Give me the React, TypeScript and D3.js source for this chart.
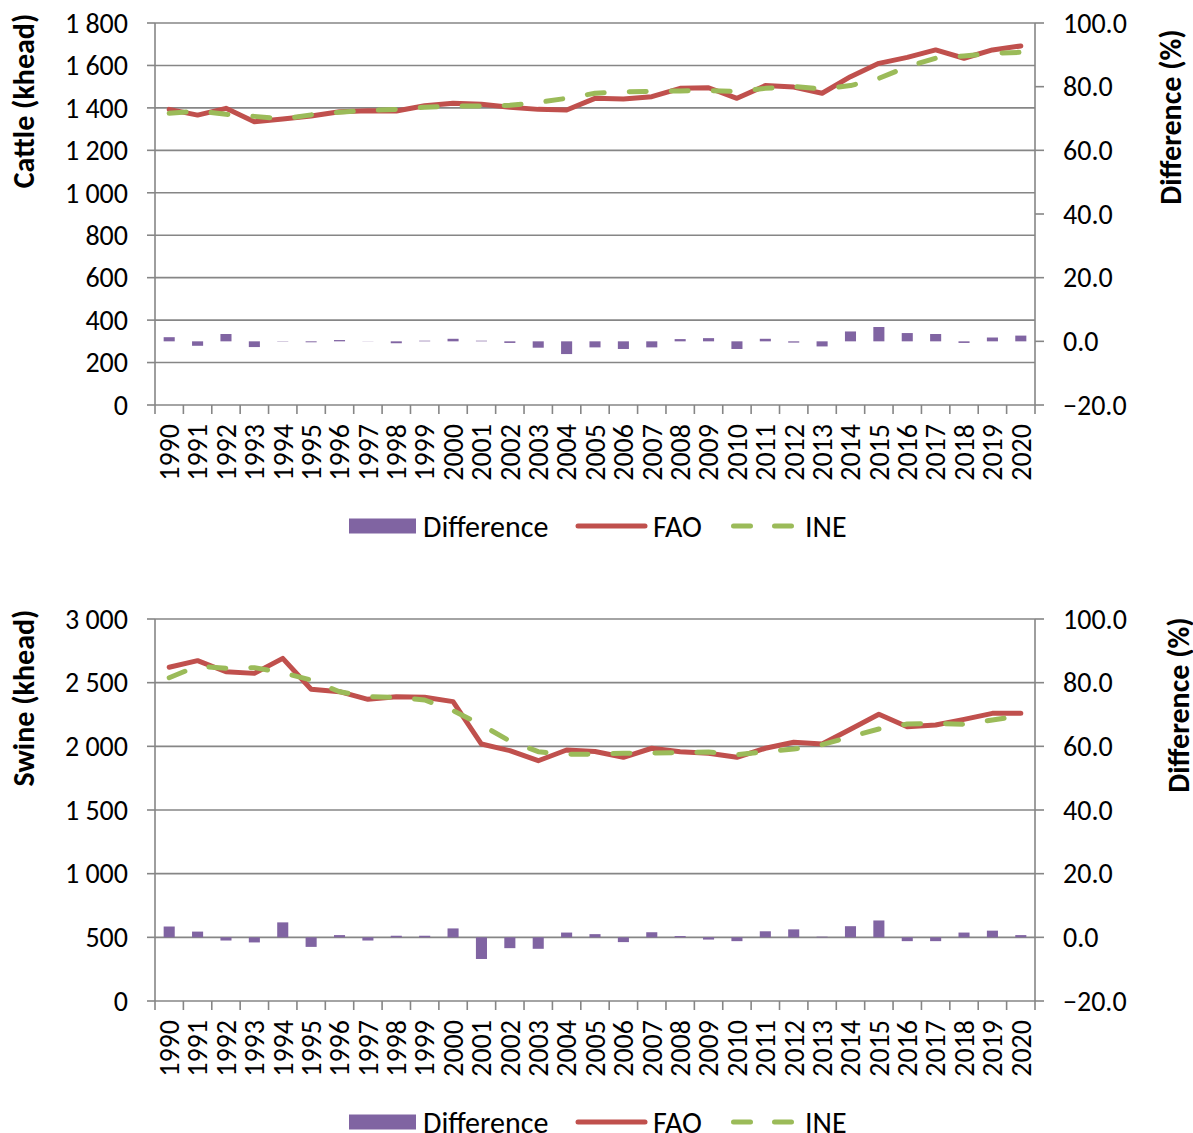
import React from "react";
import * as d3 from "d3";

const years = d3.range(1990, 2021).map(String);

const cattleFAO = [1393, 1366, 1398, 1335, 1348, 1362, 1382, 1387, 1385, 1410, 1422, 1417, 1403, 1393, 1390, 1445, 1442, 1453, 1492, 1495, 1445, 1505, 1498, 1469, 1547, 1610, 1638, 1673, 1634, 1673, 1692];
const cattleINE = [1375, 1385, 1370, 1360, 1348, 1367, 1380, 1388, 1393, 1403, 1409, 1409, 1412, 1426, 1445, 1469, 1476, 1478, 1480, 1481, 1478, 1492, 1501, 1489, 1505, 1539, 1594, 1634, 1645, 1657, 1662];
const cattleDiff = [1.3, -1.4, 2.3, -1.8, -0.1, -0.3, 0.4, 0.05, -0.6, 0.2, 0.8, 0.2, -0.5, -2.0, -4.0, -1.9, -2.4, -1.9, 0.7, 1.0, -2.4, 0.8, -0.4, -1.6, 3.1, 4.5, 2.6, 2.3, -0.5, 1.2, 1.8];

const swineFAO = [2621, 2673, 2586, 2573, 2691, 2448, 2429, 2369, 2390, 2385, 2351, 2018, 1966, 1887, 1971, 1960, 1914, 1985, 1958, 1945, 1914, 1985, 2032, 2018, 2134, 2252, 2154, 2168, 2212, 2259, 2259];
const swineINE = [2539, 2631, 2613, 2618, 2578, 2521, 2429, 2390, 2385, 2364, 2280, 2168, 2042, 1958, 1937, 1939, 1945, 1948, 1950, 1955, 1934, 1958, 1979, 2013, 2076, 2136, 2175, 2181, 2173, 2207, 2241];
const swineDiff = [3.4, 1.8, -1.0, -1.6, 4.7, -3.0, 0.7, -1.0, 0.5, 0.5, 2.8, -6.8, -3.4, -3.6, 1.5, 1.0, -1.5, 1.6, 0.4, -0.7, -1.2, 1.9, 2.5, 0.2, 3.5, 5.3, -1.2, -1.2, 1.5, 2.1, 0.7];

const cattleTicks = [0, 200, 400, 600, 800, 1000, 1200, 1400, 1600, 1800];
const swineTicks = [0, 500, 1000, 1500, 2000, 2500, 3000];
const diffTicks = [-20, 0, 20, 40, 60, 80, 100];

const legendLabels = ["Difference", "FAO", "INE"];

const RED = "#C0504D";
const GREEN = "#9BBB59";
const PURPLE = "#8064A2";
const GRID = "#868686";
const FONT = "Calibri, Carlito, Lato, sans-serif";

const locale = d3.formatLocale({ decimal: ".", thousands: " ", grouping: [3], currency: ["", ""] });
const fmtLeft = locale.format(",");
const fmtRight = d3.format(".1f");

type PanelProps = {
  top: number;
  title: string;
  titleY: number;
  rightTitleX: number;
  rightTitleY: number;
  yMax: number;
  ticks: number[];
  fao: number[];
  ine: number[];
  diff: number[];
};

function Panel(p: PanelProps) {
  const left = 155, right = 1035, h = 382;
  const top = p.top, bottom = p.top + h;
  const x = d3.scaleBand<string>().domain(years).range([left, right]);
  const yL = d3.scaleLinear().domain([0, p.yMax]).range([bottom, top]);
  const yR = d3.scaleLinear().domain([-20, 100]).range([bottom, top]);
  const cx = (i: number) => (x(years[i]) as number) + x.bandwidth() / 2;
  const line = d3.line<number>().x((_, i) => cx(i)).y((d) => yL(d));
  const bw = x.bandwidth() * 0.39;
  const legY = bottom + 121;
  const TS = 28;
  const LS = 30;
  return (
    <g fontFamily={FONT}>
      {p.ticks.map((t) => (
        <line key={"g" + t} x1={left} x2={right} y1={yL(t)} y2={yL(t)} stroke={GRID} strokeWidth={1.6} />
      ))}
      {/* left axis */}
      <line x1={left} x2={left} y1={top} y2={bottom} stroke={GRID} strokeWidth={1.6} />
      {p.ticks.map((t) => (
        <g key={"l" + t}>
          <line x1={left - 8} x2={left} y1={yL(t)} y2={yL(t)} stroke={GRID} strokeWidth={1.6} />
          <text x={128} y={yL(t)} dy="0.35em" textAnchor="end" fontSize={TS} fill="#000">{fmtLeft(t)}</text>
        </g>
      ))}
      {/* right axis */}
      <line x1={right} x2={right} y1={top} y2={bottom} stroke={GRID} strokeWidth={1.6} />
      {diffTicks.map((t) => (
        <g key={"r" + t}>
          <line x1={right} x2={right + 9} y1={yR(t)} y2={yR(t)} stroke={GRID} strokeWidth={1.6} />
          <text x={1063} y={yR(t)} dy="0.35em" textAnchor="start" fontSize={TS} fill="#000">{fmtRight(t)}</text>
        </g>
      ))}
      {/* x axis */}
      {d3.range(years.length + 1).map((i) => {
        const xx = left + i * x.step();
        return <line key={"xt" + i} x1={xx} x2={xx} y1={bottom} y2={bottom + 9} stroke={GRID} strokeWidth={1.6} />;
      })}
      {years.map((yr, i) => (
        <text key={"xl" + yr} transform={`translate(${cx(i)},${bottom + 19}) rotate(-90)`} dy="0.35em" textAnchor="end" fontSize={TS} fill="#000">{yr}</text>
      ))}
      {/* bars */}
      {p.diff.map((d, i) => (
        <rect key={"b" + i} x={cx(i) - bw / 2} width={bw} y={Math.min(yR(d), yR(0))} height={Math.abs(yR(d) - yR(0))} fill={PURPLE} />
      ))}
      <path d={line(p.fao) || ""} fill="none" stroke={RED} strokeWidth={5} strokeLinejoin="round" strokeLinecap="round" />
      <path d={line(p.ine) || ""} fill="none" stroke={GREEN} strokeWidth={5} strokeDasharray="17,25" strokeLinejoin="round" strokeLinecap="round" />
      {/* titles */}
      <text transform={`translate(23,${p.titleY}) rotate(-90)`} dy="0.35em" textAnchor="middle" fontSize={LS} fontWeight="bold" fill="#000">{p.title}</text>
      <text transform={`translate(${p.rightTitleX},${p.rightTitleY}) rotate(-90)`} dy="0.35em" textAnchor="middle" fontSize={LS} fontWeight="bold" fill="#000">Difference (%)</text>
      {/* legend */}
      <rect x={349} y={legY - 7.5} width={67} height={15} fill={PURPLE} />
      <text x={423} y={legY} dy="0.35em" fontSize={LS} fill="#000">{legendLabels[0]}</text>
      <line x1={578} x2={645} y1={legY} y2={legY} stroke={RED} strokeWidth={5} strokeLinecap="round" />
      <text x={653} y={legY} dy="0.35em" fontSize={LS} fill="#000">{legendLabels[1]}</text>
      <line x1={733.5} x2={793} y1={legY} y2={legY} stroke={GREEN} strokeWidth={5} strokeDasharray="17,24" strokeLinecap="round" />
      <text x={805} y={legY} dy="0.35em" fontSize={LS} fill="#000">{legendLabels[2]}</text>
    </g>
  );
}

export default function App() {
  return (
    <svg width={1193} height={1133} style={{ position: "absolute", left: 0, top: 0, background: "#fff" }}>
      <rect width={1193} height={1133} fill="#fff" />
      <Panel top={23} title="Cattle (khead)" titleY={101} rightTitleX={1170} rightTitleY={117} yMax={1800} ticks={cattleTicks} fao={cattleFAO} ine={cattleINE} diff={cattleDiff} />
      <Panel top={619} title="Swine (khead)" titleY={698} rightTitleX={1178} rightTitleY={705} yMax={3000} ticks={swineTicks} fao={swineFAO} ine={swineINE} diff={swineDiff} />
    </svg>
  );
}
